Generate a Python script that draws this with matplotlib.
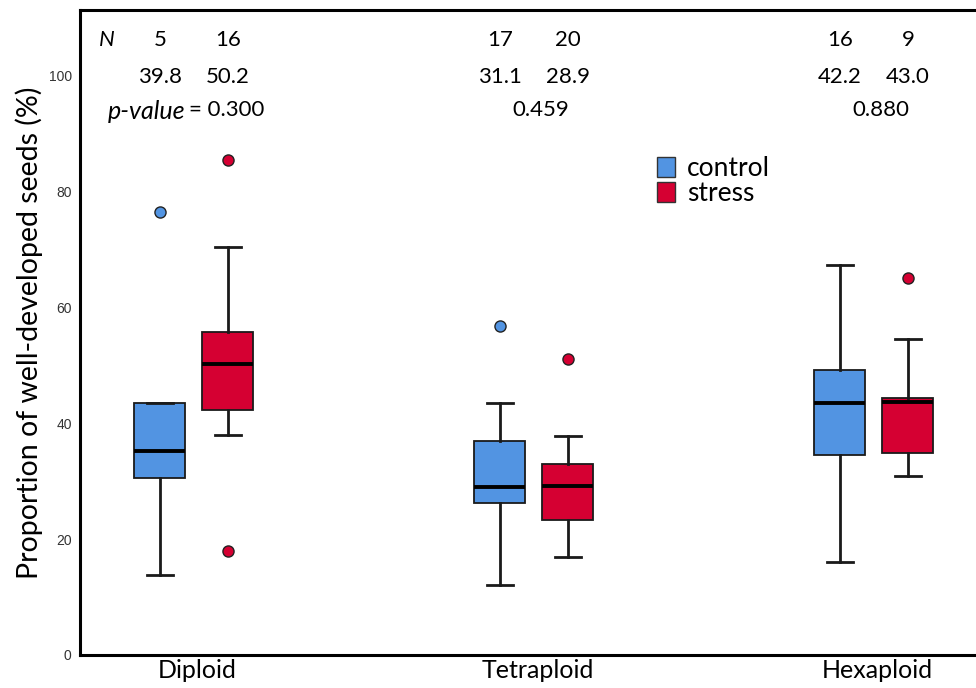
import matplotlib
matplotlib.use("Agg")
import matplotlib.pyplot as plt
from matplotlib.patches import Patch

# data (percent)
groups = ["Diploid", "Tetraploid", "Hexaploid"]
treatments = ["control", "stress"]
colors = ["#5294E2", "#D50032"]

# five-number summaries per group: [control, stress]
whislo = [[13.8, 37.9], [12.0, 16.9], [16.0, 30.9]]
q1 = [[30.5, 42.2], [26.2, 23.3], [34.5, 34.8]]
med = [[35.2, 50.2], [29.0, 29.2], [43.4, 43.7]]
q3 = [[43.4, 55.7], [36.9, 33.0], [49.1, 44.4]]
whishi = [[43.4, 70.3], [43.5, 37.7], [67.2, 54.5]]
fliers = [[[76.4], [85.3, 17.9]], [[56.7], [51.0]], [[], [65.0]]]

n_obs = [[5, 16], [17, 20], [16, 9]]
means = [["39.8", "50.2"], ["31.1", "28.9"], ["42.2", "43.0"]]
pvals = ["0.300", "0.459", "0.880"]

plt.rcParams['font.family'] = ['Lato', 'DejaVu Sans']

fig = plt.figure(figsize=(9.76, 6.88), dpi=100)
ax = fig.add_axes([0.082, 0.048, 0.918, 0.937])

offset = 0.1
fs = 16
for g in range(len(groups)):
    for t in range(2):
        st = dict(whislo=whislo[g][t], q1=q1[g][t], med=med[g][t], q3=q3[g][t],
                  whishi=whishi[g][t], fliers=fliers[g][t])
        pos = g + (t - 0.5) * 2 * offset
        ax.bxp([st], positions=[pos], widths=0.15, capwidths=0.075, patch_artist=True,
               boxprops=dict(facecolor=colors[t], edgecolor='#1a1a1a', linewidth=1.3),
               medianprops=dict(color='black', linewidth=2.8),
               whiskerprops=dict(color='#1a1a1a', linewidth=2.0),
               capprops=dict(color='#1a1a1a', linewidth=2.0),
               flierprops=dict(marker='o', markerfacecolor=colors[t], markeredgecolor='#222222',
                               markersize=8, markeredgewidth=1.0))

        # annotation rows: N and means
        ax.text(pos, 106.0, str(n_obs[g][t]), ha='center', va='center', fontsize=fs)
        ax.text(pos, 99.7, means[g][t], ha='center', va='center', fontsize=fs)
    if g == 0:
        ax.text(-0.015, 94.0, "= " + pvals[g], ha='left', va='center', fontsize=fs)
    else:
        ax.text(g + 0.02, 94.0, pvals[g], ha='center', va='center', fontsize=fs)

ax.text(-0.255, 106.0, "N", ha='center', va='center', fontsize=fs, style='italic')
ax.text(-0.025, 93.8, "p-value", ha='right', va='center', fontsize=18, style='italic')

ax.set_xlim(-0.335, 2.30)
ax.set_ylim(0, 111.2)
ax.set_xticks([g + 0.01 for g in range(len(groups))])
ax.set_xticklabels(groups, fontsize=18)
ax.set_yticks([0, 20, 40, 60, 80, 100])
ax.tick_params(axis='y', length=0, pad=6, labelsize=10, labelcolor='#333333')
ax.tick_params(axis='x', length=0, pad=3)
for lab in ax.get_yticklabels():
    lab.set_fontfamily('Liberation Sans')
ax.set_ylabel("Proportion of well-developed seeds (%)", fontsize=20.5, labelpad=4)

for side in ['left', 'bottom', 'top']:
    ax.spines[side].set_linewidth(2.2)
ax.spines['right'].set_visible(False)

handles = [Patch(facecolor=colors[i], edgecolor='#333333', label=treatments[i]) for i in range(2)]
ax.legend(handles=handles, loc='upper left', bbox_to_anchor=(0.632, 0.79), frameon=False,
          fontsize=19, handlelength=0.7, handleheight=0.8, handletextpad=0.45,
          labelspacing=0.0, borderaxespad=0)

fig.savefig("out.png", dpi=100)
